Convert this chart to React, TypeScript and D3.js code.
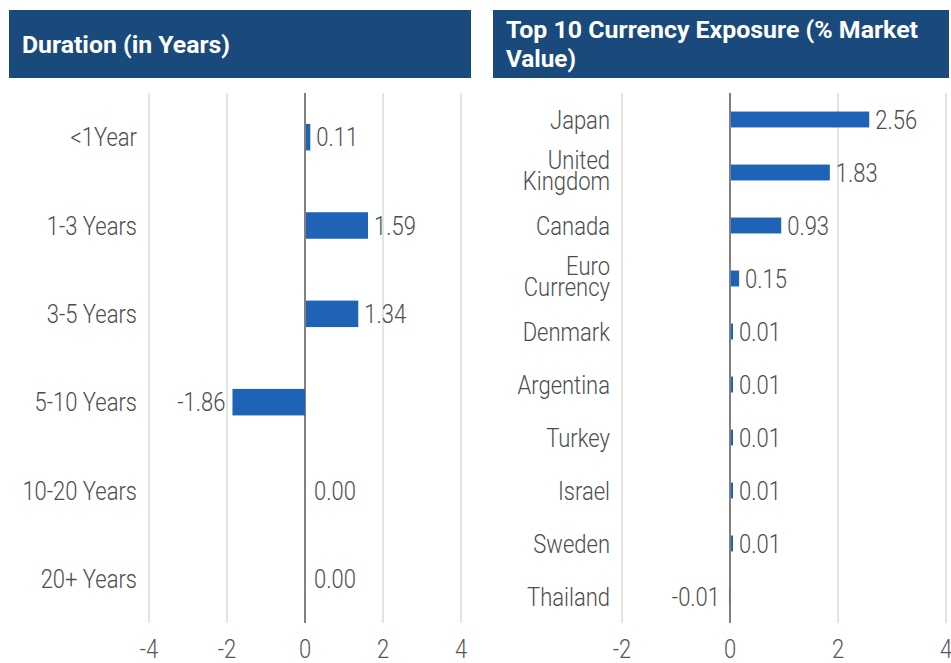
import React from "react";
import * as d3 from "d3";

const durationCategories = ["<1Year", "1-3 Years", "3-5 Years", "5-10 Years", "10-20 Years", "20+ Years"];
const durationValues = [0.11, 1.59, 1.34, -1.86, 0.0, 0.0];
const durationTicks = [-4, -2, 0, 2, 4];

const currencyCategories = [
  "Japan",
  "United Kingdom",
  "Canada",
  "Euro Currency",
  "Denmark",
  "Argentina",
  "Turkey",
  "Israel",
  "Sweden",
  "Thailand",
];
const currencyLabelLines = [
  ["Japan"],
  ["United", "Kingdom"],
  ["Canada"],
  ["Euro", "Currency"],
  ["Denmark"],
  ["Argentina"],
  ["Turkey"],
  ["Israel"],
  ["Sweden"],
  ["Thailand"],
];
const currencyValues = [2.56, 1.83, 0.93, 0.15, 0.01, 0.01, 0.01, 0.01, 0.01, -0.01];
const currencyTicks = [-2, 0, 2, 4];

const HEADER = "#1a4a7c";
const BAR = "#1e63b6";
const GRID = "#c8c8c8";
const TEXT = "#4d4d4d";
const LABEL_FONT = "Roboto, 'Noto Sans', sans-serif";
const TITLE_FONT = "Roboto, 'Noto Sans', sans-serif";
const SX = 0.88;

function CText({
  x,
  y,
  anchor,
  size,
  fill = TEXT,
  children,
}: {
  x: number;
  y: number;
  anchor: "start" | "end" | "middle";
  size: number;
  fill?: string;
  children: React.ReactNode;
}) {
  return (
    <text
      transform={`translate(${x},${y}) scale(${SX},1)`}
      textAnchor={anchor}
      dy="0.36em"
      fontFamily={LABEL_FONT}
      fontWeight={300}
      fontSize={size}
      fill={fill}
    >
      {children}
    </text>
  );
}

type PanelProps = {
  x0: number;
  x1: number;
  domain: [number, number];
  ticks: number[];
  categories: string[];
  lines: string[][];
  values: number[];
  labelRight: number;
};

function Panel({ x0, x1, domain, ticks, categories, lines, values, labelRight }: PanelProps) {
  const top = 93;
  const bottom = 623;
  const x = d3.scaleLinear().domain(domain).range([x0, x1]);
  const y = d3.scaleBand<string>().domain(categories).range([top, bottom]).paddingInner(0.7).paddingOuter(0.35);
  const zero = x(0);
  return (
    <g>
      {ticks.map((t) => (
        <g key={t}>
          <line
            x1={x(t)}
            x2={x(t)}
            y1={top}
            y2={bottom}
            stroke={t === 0 ? "#808080" : GRID}
            strokeWidth={t === 0 ? 2 : 1}
          />
          <CText x={x(t)} y={649} anchor="middle" size={25} fill="#555">
            {t}
          </CText>
        </g>
      ))}
      {categories.map((c, i) => {
        const v = values[i];
        const yc = (y(c) as number) + y.bandwidth() / 2;
        const xv = x(v);
        const bx = Math.min(zero, xv);
        const bw = Math.abs(xv - zero);
        const ls = lines[i];
        const shift = ls.length > 1 ? -2 : 0;
        return (
          <g key={c}>
            {bw > 0 && v > 0 && (
              <rect x={bx + 1} y={y(c)} width={Math.max(bw, 2)} height={y.bandwidth()} fill={BAR} />
            )}
            {bw > 0 && v < 0 && (
              <rect x={bx} y={y(c)} width={bw} height={y.bandwidth()} fill={BAR} />
            )}
            <CText
              x={v < 0 ? Math.min(xv, zero - 3) - 7 : Math.max(xv, zero + 2) + 7}
              y={yc}
              anchor={v < 0 ? "end" : "start"}
              size={25}
            >
              {v.toFixed(2)}
            </CText>
            {ls.map((l, j) => (
              <CText key={j} x={labelRight} y={yc + shift + (j - (ls.length - 1) / 2) * 21} anchor="end" size={25}>
                {l}
              </CText>
            ))}
          </g>
        );
      })}
    </g>
  );
}

export default function App() {
  return (
    <svg width={951} height={663} style={{ position: "absolute", left: 0, top: 0, background: "#fff" }}>
      <rect x={9} y={10} width={462} height={68} fill={HEADER} />
      <text
        x={22}
        y={53}
        fill="#fff"
        fontFamily={TITLE_FONT}
        fontWeight="bold"
        fontSize={24}
        textLength={208}
        lengthAdjust="spacingAndGlyphs"
      >
        Duration (in Years)
      </text>
      <rect x={493} y={10} width={456} height={68} fill={HEADER} />
      <text
        x={506}
        y={38}
        fill="#fff"
        fontFamily={TITLE_FONT}
        fontWeight="bold"
        fontSize={24}
        textLength={412}
        lengthAdjust="spacingAndGlyphs"
      >
        Top 10 Currency Exposure (% Market
      </text>
      <text
        x={506}
        y={67}
        fill="#fff"
        fontFamily={TITLE_FONT}
        fontWeight="bold"
        fontSize={24}
        textLength={70}
        lengthAdjust="spacingAndGlyphs"
      >
        Value)
      </text>
      <Panel
        x0={149}
        x1={461}
        domain={[-4, 4]}
        ticks={durationTicks}
        categories={durationCategories}
        lines={durationCategories.map((c) => [c])}
        values={durationValues}
        labelRight={137}
      />
      <Panel
        x0={622}
        x1={946}
        domain={[-2, 4]}
        ticks={currencyTicks}
        categories={currencyCategories}
        lines={currencyLabelLines}
        values={currencyValues}
        labelRight={610}
      />
    </svg>
  );
}
